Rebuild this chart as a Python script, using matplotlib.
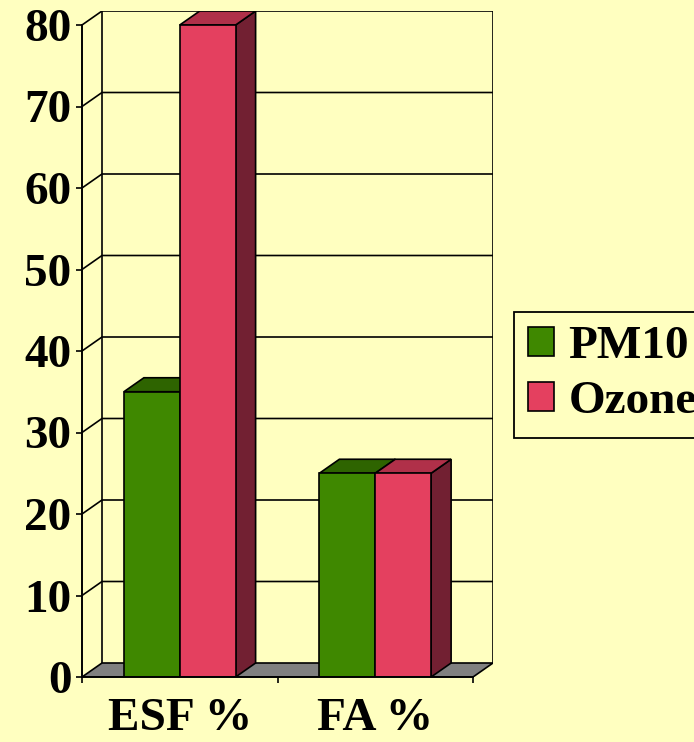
import matplotlib
matplotlib.use("Agg")
import matplotlib.pyplot as plt
from matplotlib.patches import Polygon, Patch

categories = ["ESF %", "FA %"]
series_names = ["PM10", "Ozone"]
pm10 = [35, 25]
ozone = [80, 25]
yticks = [0, 10, 20, 30, 40, 50, 60, 70, 80]

BG = "#FFFFC0"
front_cols = ["#3F8800", "#E4405F"]
top_cols = ["#2E6400", "#B03049"]
side_cols = ["#2A5A00", "#722032"]
FLOOR = "#808080"

fig = plt.figure(figsize=(6.94, 7.42), dpi=100, facecolor=BG)
W, H = 694, 742
ax = fig.add_axes([82 / W, 1 - 677 / H, 411 / W, 666 / H])
ax.set_facecolor("none")
dx = 20 / 195.5
dy = 14 / 8.15
ncat = len(categories)
ymax = yticks[-1]
ax.set_xlim(0, ncat + dx)
ax.set_ylim(0, ymax + dy)
for s in ax.spines.values():
    s.set_visible(False)

lw = 1.2
# back wall edges and grid
ax.plot([dx, dx], [dy, ymax + dy], color="black", lw=lw, zorder=1)
ax.plot([ncat + dx, ncat + dx], [dy, ymax + dy], color="black", lw=lw, zorder=1)
for v in yticks[1:]:
    ax.plot([0, dx, ncat + dx], [v, v + dy, v + dy], color="black", lw=lw, zorder=1)

# floor
ax.add_patch(Polygon([(0, 0), (ncat, 0), (ncat + dx, dy), (dx, dy)], closed=True,
                     facecolor=FLOOR, edgecolor="black", lw=lw, zorder=2))

# bars
gap = 42 / 196
bw = 56 / 196
z = 3
for i in range(ncat):
    for j, vals in enumerate([pm10, ozone]):
        v = vals[i]
        x0 = i + gap + j * bw
        x1 = x0 + bw
        ax.add_patch(Polygon([(x1, 0), (x1 + dx, dy), (x1 + dx, v + dy), (x1, v)], closed=True,
                             facecolor=side_cols[j], edgecolor="black", lw=lw, zorder=z))
        ax.add_patch(Polygon([(x0, v), (x1, v), (x1 + dx, v + dy), (x0 + dx, v + dy)], closed=True,
                             facecolor=top_cols[j], edgecolor="black", lw=lw, zorder=z))
        ax.bar([x0], [v], width=bw, align="edge", color=front_cols[j], edgecolor="black",
               lw=lw, zorder=z + 0.5)
        z += 1

# front axes
ax.plot([0, 0], [0, ymax], color="black", lw=1.4, zorder=20, clip_on=False)
ax.plot([0, ncat], [0, 0], color="black", lw=1.4, zorder=20, clip_on=False)

font = dict(family="Liberation Serif", weight="bold", size=34)
ax.set_yticks(yticks)
ax.set_yticklabels([str(t) for t in yticks], fontdict=font)
ax.tick_params(axis="y", length=4.5, width=1.2, pad=3)
ax.set_xticks(range(ncat + 1))
ax.set_xticklabels([""] * (ncat + 1))
ax.tick_params(axis="x", which="major", length=4.5, width=1.2)
ax.set_xticks([i + 0.5 for i in range(ncat)], minor=True)
ax.set_xticklabels(categories, minor=True, fontdict=font)
ax.tick_params(axis="x", which="minor", length=0, pad=15)

handles = [Patch(facecolor=front_cols[k], edgecolor="black", lw=1.2) for k in range(2)]
leg = fig.legend(handles, series_names, loc="upper left",
                 bbox_to_anchor=(514 / W, 1 - 312 / H), bbox_transform=fig.transFigure,
                 prop=dict(family="Liberation Serif", weight="bold", size=34),
                 handlelength=0.55, handleheight=0.55, handletextpad=0.3,
                 borderpad=0.3, labelspacing=0.28, borderaxespad=0,
                 frameon=True, fancybox=False, facecolor=BG, edgecolor="black", framealpha=1)
leg.get_frame().set_linewidth(1.3)

fig.savefig("out.png", dpi=100, facecolor=BG)
